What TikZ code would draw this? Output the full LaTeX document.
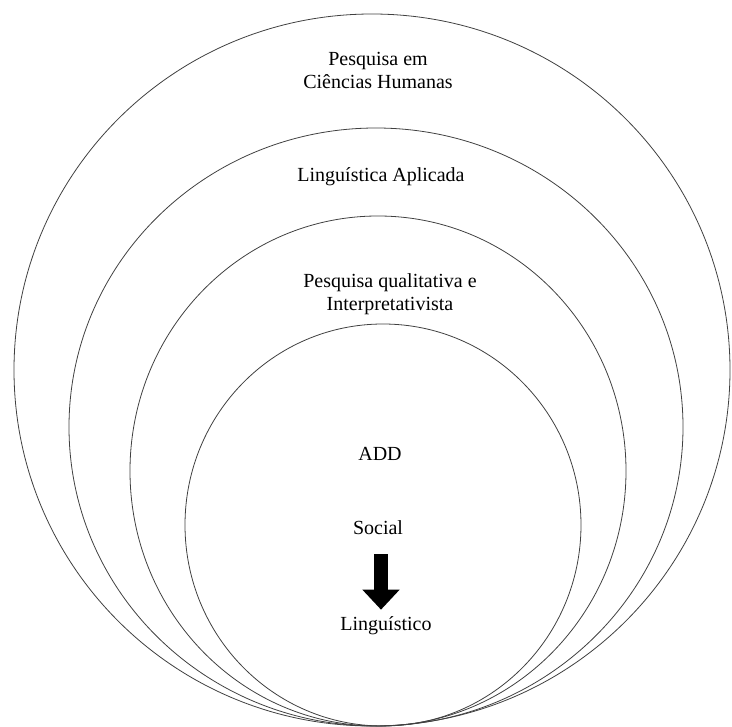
\documentclass[tikz,border=0pt]{standalone}
\usepackage{fontspec}
\setmainfont{Liberation Serif}
\usetikzlibrary{arrows.meta, positioning}

\begin{document}
\begin{tikzpicture}[x=1pt, y=-1pt,
  ring/.style={draw=black!75, line width=0.8pt},
  lbl/.style={font=\fontsize{20}{23}\selectfont, align=center, inner sep=1pt}]
\useasboundingbox (0,0) rectangle (732,727);

% Nested circles, all touching at the bottom
\draw[ring] (372,370) ellipse [x radius=358pt, y radius=356pt];
\draw[ring] (376,427) ellipse [x radius=307pt, y radius=299pt];
\draw[ring] (378,471) ellipse [x radius=248pt, y radius=255pt];
\draw[ring] (383,525) ellipse [x radius=198pt, y radius=201pt];

% Labels
\node[lbl] (humanas) at (378,70) {Pesquisa em\\Ciências Humanas};
\node[lbl] (aplicada) at (381,177) {Linguística Aplicada};
\node[lbl] (qualitativa) at (390,294) {Pesquisa qualitativa e\\Interpretativista};
\node[lbl] (add) at (380,454) {ADD};
\node[lbl] (social) at (378,528) {Social};
\node[lbl] (linguistico) at (386,626) {Linguístico};

% Block arrow
\draw[line width=14pt, -{Triangle[width=36pt, length=20pt]}, shorten <=18pt, shorten >=6pt]
  (social.south -| 381,0) -- (linguistico.north -| 381,0);
\end{tikzpicture}
\end{document}
